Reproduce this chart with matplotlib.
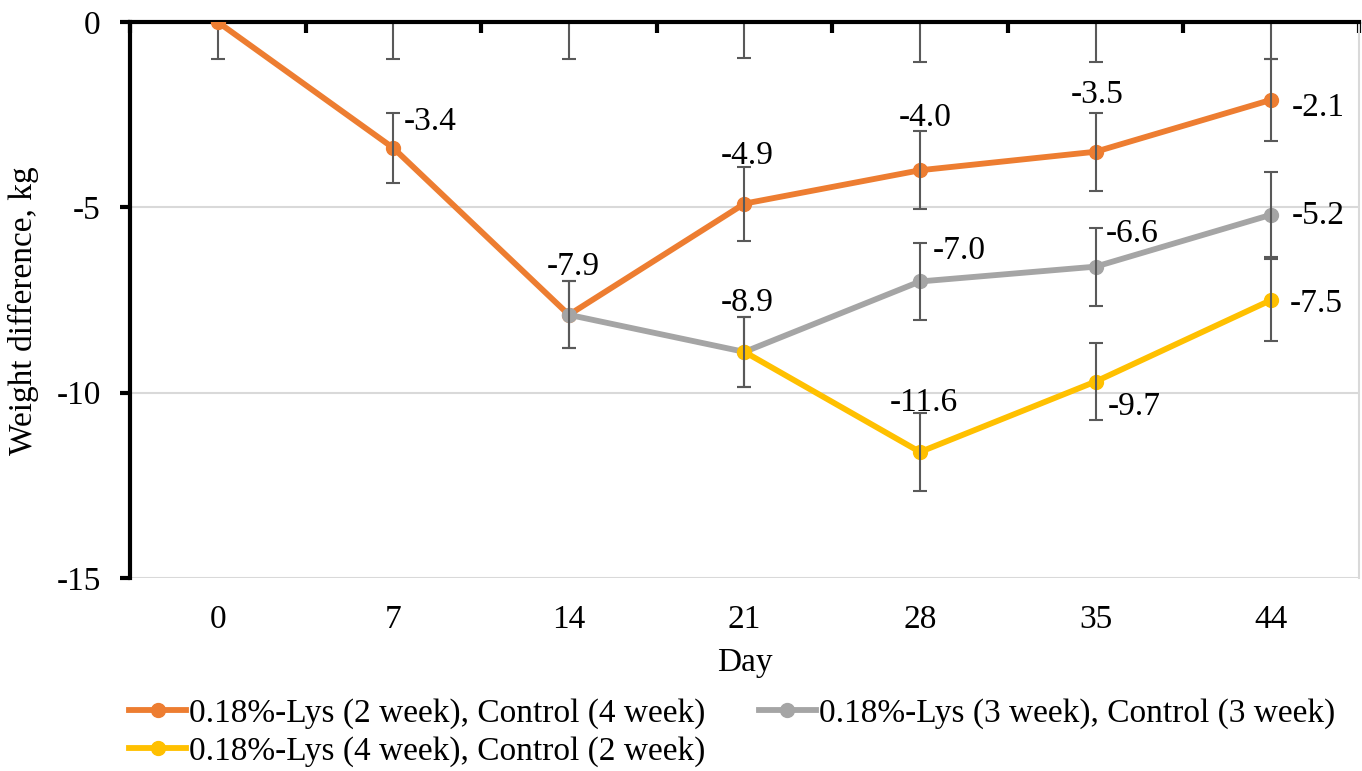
import numpy as np
import matplotlib
matplotlib.use("Agg")
import matplotlib.pyplot as plt
from matplotlib.ticker import FixedLocator

plt.rcParams["font.family"] = ["Liberation Serif", "DejaVu Serif"]

days = ["0", "7", "14", "21", "28", "35", "44"]

# control (0 line) error bars, hanging below the axis
control = [0, 0, 0, 0, 0, 0, 0]
control_err = [1.0, 1.0, 1.0, 0.97, 1.08, 1.08, 1.0]

lys2 = [0, -3.4, -7.9, -4.9, -4.0, -3.5, -2.1]
lys2_err = [0, 0.95, 0.9, 1.0, 1.05, 1.05, 1.1]

lys3 = [np.nan, np.nan, -7.9, -8.9, -7.0, -6.6, -5.2]
lys3_err = [0, 0, 0.9, 0.95, 1.05, 1.05, 1.15]

lys4 = [np.nan, np.nan, np.nan, -8.9, -11.6, -9.7, -7.5]
lys4_err = [0, 0, 0, 0.95, 1.05, 1.05, 1.1]

names = ["0.18%-Lys (2 week), Control (4 week)",
         "0.18%-Lys (3 week), Control (3 week)",
         "0.18%-Lys (4 week), Control (2 week)"]
colors = ["#ED7D31", "#A5A5A5", "#FFC000"]

# label offsets in pixels (dx, dy) per point
lab_off = [
    [None, (37, 26), (4, 48), (3, 48), (5, 53), (2, 57), (47, -8)],
    [None, None, None, (3, 49), (39, 31), (37, 33), (47, -1)],
    [None, None, None, None, (4, 49), (39, -25), (45, -4)],
]

fig = plt.figure(figsize=(13.62, 7.71), dpi=100)
ax = fig.add_axes([0.0954, 0.2503, 0.9024, 0.7212])
x = np.arange(len(days))
fs = 24
err_col = "#595959"

ax.errorbar(x, control, yerr=[control_err, [0] * 7], fmt="none",
            ecolor=err_col, elinewidth=1.5, capsize=5, capthick=1.5, zorder=2)

handles = []
series = [(lys2, lys2_err), (lys3, lys3_err), (lys4, lys4_err)]
for i, (vals, err) in enumerate(series):
    v = np.array(vals, dtype=float)
    h, = ax.plot(x, v, color=colors[i], lw=4.2, marker="o", ms=10,
                 label=names[i], zorder=3 + i)
    handles.append(h)
    e = np.array(err)
    m = ~np.isnan(v) & (e > 0)
    ax.errorbar(x[m], v[m], yerr=e[m], fmt="none", ecolor=err_col,
                elinewidth=1.5, capsize=5, capthick=1.5, zorder=3 + i)
    for j in range(len(v)):
        off = lab_off[i][j]
        if off is None or np.isnan(v[j]):
            continue
        ax.annotate(f"{v[j]:.1f}", (x[j], v[j]), xytext=off,
                    textcoords="offset pixels", ha="center", va="center",
                    fontsize=fs, zorder=10)

ax.set_xlim(-0.5, 6.5)
ax.set_ylim(-15, 0)
ax.set_yticks([0, -5, -10, -15])
ax.set_yticklabels(["0", "-5", "-10", "-15"])
ax.set_xticks(x)
ax.set_xticklabels(days)
ax.xaxis.set_minor_locator(FixedLocator(np.arange(-0.5, 7, 1)))
ax.tick_params(axis="x", which="major", length=0, pad=19, labelsize=fs)
ax.tick_params(axis="x", which="minor", bottom=False, top=True,
               direction="in", length=8, width=3, color="black")
ax.tick_params(axis="y", length=7, width=3, labelsize=fs, pad=14)

for yv in [-5, -10, -15]:
    ax.axhline(yv, color="#d9d9d9", lw=1.5, zorder=1)

ax.spines["top"].set_linewidth(3)
ax.spines["left"].set_linewidth(3)
ax.spines["bottom"].set_visible(False)
ax.spines["right"].set_color("#d9d9d9")
ax.spines["right"].set_linewidth(1.5)

ax.set_xlabel("Day", fontsize=fs, labelpad=9)
ax.set_ylabel("Weight difference, kg", fontsize=fs)
ax.yaxis.set_label_coords(-0.074, 0.48)

# column-major order so row 1 = orange, gray and row 2 = yellow
fig.legend([handles[0], handles[2], handles[1]],
           [names[0], names[2], names[1]],
           loc="upper left", bbox_to_anchor=(0.09, 0.103), ncol=2,
           frameon=False, fontsize=fs, handlelength=1.7, handletextpad=0.1,
           columnspacing=1.6, labelspacing=0.2, borderaxespad=0,
           borderpad=0.2)

fig.savefig("out.png", dpi=100)
